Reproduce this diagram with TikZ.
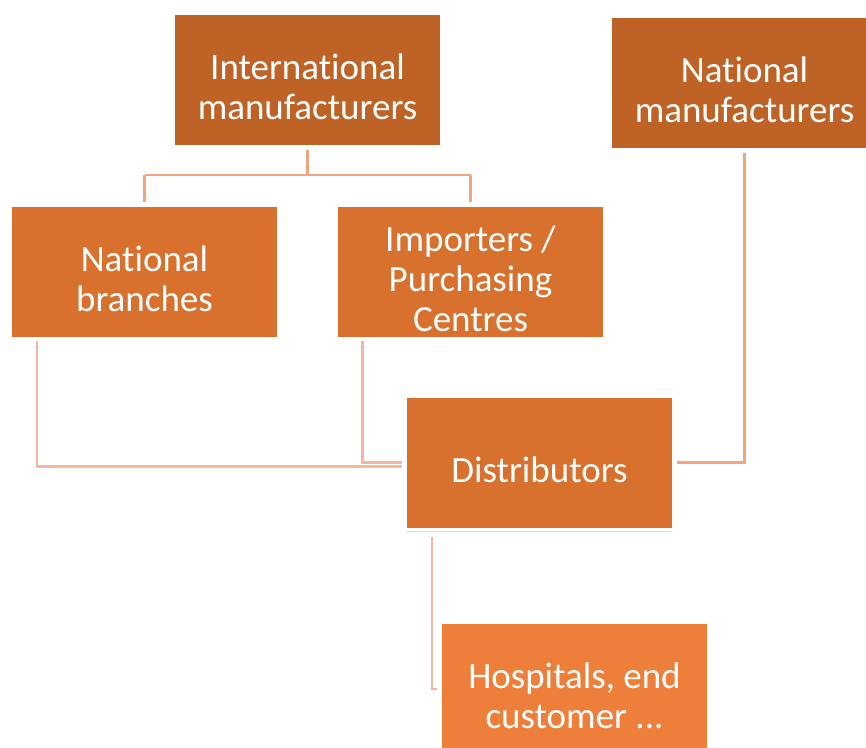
\documentclass[tikz,border=0pt]{standalone}
\usepackage{fontspec}
\setmainfont[Ligatures=NoCommon]{Carlito}
\usepackage{xcolor}
\definecolor{darkrust}{HTML}{BE6226}
\definecolor{rust}{HTML}{D8712E}
\definecolor{lightrust}{HTML}{ED7F3A}
\definecolor{linkpink}{HTML}{F4A47C}
\definecolor{linkpale}{HTML}{F5B7A0}
\tikzset{box/.style={rectangle,minimum width=265pt,minimum height=130pt,inner sep=0pt},
 boxtext/.style={text=white,align=center,yshift=-7pt,font=\fontsize{37}{40}\selectfont},
 link/.style={draw=linkpink,line width=2.5pt},
 palelink/.style={draw=linkpale,line width=2.5pt},
 }

\begin{document}
\begin{tikzpicture}[x=1pt,y=-1pt]
        \useasboundingbox (0,0) rectangle (866,747);
        \begin{scope}
        \clip (0,0) rectangle (866,747);
        \node [box, fill=darkrust, label={[boxtext]center:International\\manufacturers}] (intl) at (307.5, 80) {};
        \node [box, fill=darkrust, label={[boxtext]center:National\\manufacturers}] (natman) at (744.5, 83) {};
        \node [box, fill=rust, label={[boxtext]center:National\\branches}] (branches) at (144.5, 272) {};
        \node [box, fill=rust, label={[boxtext]center:Importers /\\Purchasing\\Centres}] (importers) at (470.5, 272) {};
        \node [box, fill=rust, label={[boxtext]center:Distributors}] (distrib) at (539.5, 462.5) {};
        \node [box, fill=lightrust, label={[boxtext]center:Hospitals, end\\customer ...}] (hosp) at (574.5, 689) {};
        \end{scope}
        % links into the middle row
        \draw [link] ([yshift=-5pt]intl.south) -- ++(0,25) coordinate (fork);
        \draw [link] (fork -| branches.north) -- (fork -| importers.north);
        \draw [link] (fork -| branches.north) -- (144.5, 202);
        \draw [link] (fork -| importers.north) -- (470.5, 202);
        % links into the distributors
        \draw [palelink] (37, 341) |- ([xshift=-5pt,yshift=-4pt]distrib.west);
        \draw [palelink] (362.5, 341) |- ([xshift=-5pt]distrib.west);
        \draw [link] ([yshift=-5pt]natman.south) |- ([xshift=5pt]distrib.east);
        \draw [draw=linkpale!70, line width=1pt] ([yshift=-4pt]distrib.south west) -- ([yshift=-4pt]distrib.south east);
        \draw [palelink] (432, 537) |- ([xshift=-5pt]hosp.west);
    \end{tikzpicture}
\end{document}
